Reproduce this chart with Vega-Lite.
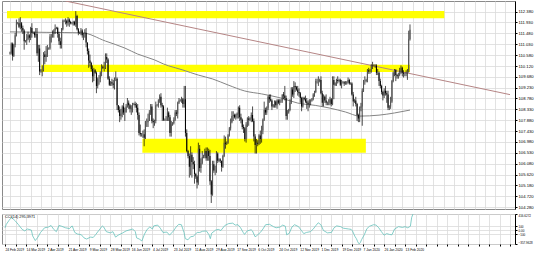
{
"$schema": "https://vega.github.io/schema/vega-lite/v6.json",
"background": "white",
"padding": {"left": 1, "top": 0, "right": 0, "bottom": 0},
"spacing": 1,
"config": {
  "view": {"stroke": "#8a8a8a", "strokeWidth": 1},
  "axis": {"labelFont": "Liberation Sans", "labelFontSize": 4.2, "labelColor": "#000000", "gridColor": "#dadada", "gridWidth": 0.8, "domainColor": "#000000", "tickColor": "#000000", "tickSize": 2, "labelPadding": 1}
},
"datasets": {
  "bands": [
    {"i": -2.3, "i2": 336.6, "p": 112.1, "p2": 112.41},
    {"i": 24.3, "i2": 310, "p": 109.88, "p2": 110.18},
    {"i": 102.6, "i2": 275.8, "p": 106.53, "p2": 107.11}
  ],
  "trend": [{"i": 43, "p": 112.82}, {"i": 387.5, "p": 108.94}],
  "ma": [
    {"i":0,"p":111.54},{"i":28,"p":111.52},{"i":56,"p":111.5},{"i":74,"p":111.16},{"i":89,"p":110.87},{"i":99,"p":110.62},{"i":112,"p":110.38},{"i":119,"p":110.21},{"i":134,"p":109.96},{"i":146,"p":109.75},{"i":157,"p":109.59},{"i":169,"p":109.34},{"i":182,"p":109.09},{"i":195,"p":108.97},{"i":210,"p":108.8},{"i":223,"p":108.59},{"i":237,"p":108.49},{"i":248,"p":108.38},{"i":260,"p":108.22},{"i":271,"p":108.05},{"i":286,"p":108.09},{"i":298,"p":108.18},{"i":310,"p":108.3}
  ],
  "ohlc": [
{"i":0,"o":110.65,"h":110.72,"l":110.6,"c":110.68},
{"i":1,"o":110.68,"h":111.1,"l":110.6,"c":111.05},
{"i":2,"o":111.05,"h":111.1,"l":110.35,"c":110.55},
{"i":3,"o":110.55,"h":111.05,"l":110.5,"c":111.0},
{"i":4,"o":111.0,"h":111.5,"l":110.9,"c":111.4},
{"i":5,"o":111.4,"h":112.05,"l":111.35,"c":111.9},
{"i":6,"o":111.9,"h":111.95,"l":111.85,"c":111.9},
{"i":7,"o":111.9,"h":112.1,"l":111.7,"c":111.75},
{"i":8,"o":111.75,"h":112.15,"l":111.65,"c":111.9},
{"i":9,"o":111.9,"h":111.95,"l":111.55,"c":111.7},
{"i":10,"o":111.7,"h":111.8,"l":111.45,"c":111.6},
{"i":11,"o":111.6,"h":111.65,"l":110.8,"c":111.15},
{"i":12,"o":111.15,"h":111.2,"l":111.1,"c":111.15},
{"i":13,"o":111.15,"h":111.45,"l":111.0,"c":111.25},
{"i":14,"o":111.25,"h":111.55,"l":111.2,"c":111.4},
{"i":15,"o":111.4,"h":111.45,"l":111.1,"c":111.3},
{"i":16,"o":111.3,"h":111.75,"l":111.2,"c":111.7},
{"i":17,"o":111.7,"h":111.9,"l":111.3,"c":111.5},
{"i":18,"o":111.5,"h":111.55,"l":111.45,"c":111.5},
{"i":19,"o":111.5,"h":111.55,"l":111.3,"c":111.4},
{"i":20,"o":111.4,"h":111.7,"l":111.3,"c":111.45},
{"i":21,"o":111.45,"h":111.7,"l":110.55,"c":110.65},
{"i":22,"o":110.65,"h":111.0,"l":110.3,"c":110.85},
{"i":23,"o":110.85,"h":111.0,"l":109.75,"c":109.9},
{"i":24,"o":109.9,"h":110.0,"l":109.85,"c":109.95},
{"i":25,"o":109.95,"h":110.15,"l":109.7,"c":109.95},
{"i":26,"o":109.95,"h":110.7,"l":109.9,"c":110.6},
{"i":27,"o":110.6,"h":110.75,"l":110.2,"c":110.5},
{"i":28,"o":110.5,"h":110.95,"l":110.3,"c":110.6},
{"i":29,"o":110.6,"h":111.0,"l":110.5,"c":110.85},
{"i":30,"o":110.85,"h":110.9,"l":110.8,"c":110.85},
{"i":31,"o":110.85,"h":111.45,"l":110.8,"c":111.35},
{"i":32,"o":111.35,"h":111.45,"l":111.1,"c":111.35},
{"i":33,"o":111.35,"h":111.6,"l":111.3,"c":111.45},
{"i":34,"o":111.45,"h":111.65,"l":111.3,"c":111.6},
{"i":35,"o":111.6,"h":111.85,"l":111.45,"c":111.7},
{"i":36,"o":111.7,"h":111.75,"l":111.65,"c":111.7},
{"i":37,"o":111.7,"h":111.75,"l":111.3,"c":111.45},
{"i":38,"o":111.45,"h":111.55,"l":111.0,"c":111.15},
{"i":39,"o":111.15,"h":111.3,"l":110.85,"c":111.0},
{"i":40,"o":111.0,"h":111.7,"l":110.85,"c":111.65},
{"i":41,"o":111.65,"h":112.05,"l":111.6,"c":112.0},
{"i":42,"o":112.0,"h":112.05,"l":111.95,"c":112.0},
{"i":43,"o":112.0,"h":112.1,"l":111.85,"c":112.0},
{"i":44,"o":112.0,"h":112.05,"l":111.75,"c":111.9},
{"i":45,"o":111.9,"h":112.15,"l":111.8,"c":112.05},
{"i":46,"o":112.05,"h":112.1,"l":111.75,"c":111.95},
{"i":47,"o":111.95,"h":112.0,"l":111.85,"c":111.9},
{"i":48,"o":111.9,"h":111.95,"l":111.85,"c":111.9},
{"i":49,"o":111.9,"h":112.0,"l":111.8,"c":111.95},
{"i":50,"o":111.95,"h":112.0,"l":111.8,"c":111.85},
{"i":51,"o":111.85,"h":112.4,"l":111.75,"c":112.2},
{"i":52,"o":112.2,"h":112.25,"l":111.6,"c":111.65},
{"i":53,"o":111.65,"h":111.7,"l":111.4,"c":111.5},
{"i":54,"o":111.5,"h":111.55,"l":111.45,"c":111.55},
{"i":55,"o":111.55,"h":111.7,"l":111.4,"c":111.6},
{"i":56,"o":111.6,"h":111.65,"l":111.3,"c":111.4},
{"i":57,"o":111.4,"h":111.5,"l":111.2,"c":111.45},
{"i":58,"o":111.45,"h":111.65,"l":111.3,"c":111.5},
{"i":59,"o":111.5,"h":111.7,"l":110.9,"c":111.1},
{"i":60,"o":111.1,"h":111.1,"l":110.6,"c":110.75},
{"i":61,"o":110.75,"h":110.85,"l":110.05,"c":110.35},
{"i":62,"o":110.35,"h":110.6,"l":110.1,"c":110.25},
{"i":63,"o":110.25,"h":110.3,"l":109.9,"c":110.0},
{"i":64,"o":110.0,"h":110.15,"l":109.45,"c":109.7},
{"i":65,"o":109.7,"h":110.05,"l":109.5,"c":109.95},
{"i":66,"o":109.95,"h":110.0,"l":109.8,"c":109.85},
{"i":67,"o":109.85,"h":109.9,"l":109.0,"c":109.3},
{"i":68,"o":109.3,"h":109.65,"l":109.2,"c":109.6},
{"i":69,"o":109.6,"h":109.75,"l":109.35,"c":109.6},
{"i":70,"o":109.6,"h":109.9,"l":109.45,"c":109.85},
{"i":71,"o":109.85,"h":110.2,"l":109.7,"c":110.1},
{"i":72,"o":110.1,"h":110.15,"l":110.0,"c":110.05},
{"i":73,"o":110.05,"h":110.3,"l":109.9,"c":110.05},
{"i":74,"o":110.05,"h":110.65,"l":110.0,"c":110.5},
{"i":75,"o":110.5,"h":110.65,"l":110.25,"c":110.4},
{"i":76,"o":110.4,"h":110.45,"l":109.55,"c":109.6},
{"i":77,"o":109.6,"h":109.7,"l":109.3,"c":109.35},
{"i":78,"o":109.35,"h":109.5,"l":109.3,"c":109.45},
{"i":79,"o":109.45,"h":109.6,"l":109.3,"c":109.4},
{"i":80,"o":109.4,"h":109.55,"l":109.2,"c":109.35},
{"i":81,"o":109.35,"h":109.65,"l":109.15,"c":109.6},
{"i":82,"o":109.6,"h":109.9,"l":109.5,"c":109.6},
{"i":83,"o":109.6,"h":109.65,"l":108.3,"c":108.5},
{"i":84,"o":108.5,"h":108.5,"l":108.2,"c":108.3},
{"i":85,"o":108.3,"h":108.45,"l":107.8,"c":108.05},
{"i":86,"o":108.05,"h":108.35,"l":107.9,"c":108.15},
{"i":87,"o":108.15,"h":108.5,"l":108.0,"c":108.45},
{"i":88,"o":108.45,"h":108.6,"l":108.1,"c":108.2},
{"i":89,"o":108.2,"h":108.4,"l":107.85,"c":108.2},
{"i":90,"o":108.2,"h":108.55,"l":108.2,"c":108.45},
{"i":91,"o":108.45,"h":108.8,"l":108.4,"c":108.6},
{"i":92,"o":108.6,"h":108.7,"l":108.35,"c":108.5},
{"i":93,"o":108.5,"h":108.55,"l":108.2,"c":108.35},
{"i":94,"o":108.35,"h":108.5,"l":108.1,"c":108.4},
{"i":95,"o":108.4,"h":108.6,"l":108.2,"c":108.55},
{"i":96,"o":108.55,"h":108.6,"l":108.5,"c":108.55},
{"i":97,"o":108.55,"h":108.65,"l":108.4,"c":108.5},
{"i":98,"o":108.5,"h":108.6,"l":108.2,"c":108.4},
{"i":99,"o":108.4,"h":108.55,"l":107.9,"c":108.1},
{"i":100,"o":108.1,"h":108.2,"l":107.25,"c":107.35},
{"i":101,"o":107.35,"h":107.7,"l":107.2,"c":107.3},
{"i":102,"o":107.3,"h":107.35,"l":107.2,"c":107.3},
{"i":103,"o":107.3,"h":107.45,"l":107.15,"c":107.3},
{"i":104,"o":107.3,"h":107.5,"l":106.8,"c":107.15},
{"i":105,"o":107.15,"h":107.85,"l":107.1,"c":107.8},
{"i":106,"o":107.8,"h":107.95,"l":107.6,"c":107.8},
{"i":107,"o":107.8,"h":108.15,"l":107.6,"c":107.85},
{"i":108,"o":107.85,"h":108.3,"l":107.85,"c":108.2},
{"i":109,"o":108.2,"h":108.55,"l":108.1,"c":108.45},
{"i":110,"o":108.45,"h":108.55,"l":107.75,"c":107.85},
{"i":111,"o":107.85,"h":107.95,"l":107.55,"c":107.8},
{"i":112,"o":107.8,"h":107.9,"l":107.65,"c":107.85},
{"i":113,"o":107.85,"h":108.65,"l":107.75,"c":108.5},
{"i":114,"o":108.5,"h":108.55,"l":108.45,"c":108.5},
{"i":115,"o":108.5,"h":108.75,"l":108.4,"c":108.7},
{"i":116,"o":108.7,"h":108.95,"l":108.6,"c":108.85},
{"i":117,"o":108.85,"h":109.0,"l":108.4,"c":108.5},
{"i":118,"o":108.5,"h":108.6,"l":107.85,"c":108.45},
{"i":119,"o":108.45,"h":108.5,"l":107.85,"c":107.9},
{"i":120,"o":107.9,"h":107.95,"l":107.85,"c":107.9},
{"i":121,"o":107.9,"h":108.05,"l":107.85,"c":107.9},
{"i":122,"o":107.9,"h":108.4,"l":107.85,"c":108.2},
{"i":123,"o":108.2,"h":108.25,"l":107.85,"c":108.0},
{"i":124,"o":108.0,"h":108.1,"l":107.2,"c":107.35},
{"i":125,"o":107.35,"h":107.85,"l":107.2,"c":107.7},
{"i":126,"o":107.7,"h":107.8,"l":107.65,"c":107.75},
{"i":127,"o":107.75,"h":108.0,"l":107.7,"c":107.9},
{"i":128,"o":107.9,"h":108.3,"l":107.85,"c":108.2},
{"i":129,"o":108.2,"h":108.3,"l":108.05,"c":108.15},
{"i":130,"o":108.15,"h":108.65,"l":107.95,"c":108.6},
{"i":131,"o":108.6,"h":108.8,"l":108.55,"c":108.7},
{"i":132,"o":108.7,"h":108.75,"l":108.65,"c":108.7},
{"i":133,"o":108.7,"h":108.85,"l":108.6,"c":108.75},
{"i":134,"o":108.75,"h":108.8,"l":108.4,"c":108.55},
{"i":135,"o":108.55,"h":109.3,"l":108.4,"c":108.75},
{"i":136,"o":108.75,"h":109.3,"l":107.2,"c":107.35},
{"i":137,"o":107.35,"h":107.5,"l":106.55,"c":106.6},
{"i":138,"o":106.6,"h":106.65,"l":106.3,"c":106.4},
{"i":139,"o":106.4,"h":106.5,"l":105.5,"c":105.95},
{"i":140,"o":105.95,"h":106.8,"l":105.6,"c":106.45},
{"i":141,"o":106.45,"h":106.55,"l":105.5,"c":106.15},
{"i":142,"o":106.15,"h":106.35,"l":105.85,"c":106.05},
{"i":143,"o":106.05,"h":106.2,"l":105.25,"c":105.65},
{"i":144,"o":105.65,"h":105.7,"l":105.45,"c":105.55},
{"i":145,"o":105.55,"h":105.6,"l":105.05,"c":105.3},
{"i":146,"o":105.3,"h":106.95,"l":105.2,"c":106.7},
{"i":147,"o":106.7,"h":106.85,"l":105.75,"c":105.9},
{"i":148,"o":105.9,"h":106.3,"l":105.7,"c":106.1},
{"i":149,"o":106.1,"h":106.6,"l":106.05,"c":106.35},
{"i":150,"o":106.35,"h":106.45,"l":106.3,"c":106.4},
{"i":151,"o":106.4,"h":106.7,"l":106.3,"c":106.6},
{"i":152,"o":106.6,"h":106.75,"l":106.2,"c":106.3},
{"i":153,"o":106.3,"h":106.75,"l":106.2,"c":106.6},
{"i":154,"o":106.6,"h":106.7,"l":106.2,"c":106.4},
{"i":155,"o":106.4,"h":106.65,"l":105.2,"c":105.35},
{"i":156,"o":105.35,"h":105.4,"l":104.45,"c":104.8},
{"i":157,"o":104.8,"h":106.2,"l":104.75,"c":106.05},
{"i":158,"o":106.05,"h":106.2,"l":105.7,"c":105.8},
{"i":159,"o":105.8,"h":106.0,"l":105.6,"c":105.8},
{"i":160,"o":105.8,"h":106.6,"l":105.7,"c":106.5},
{"i":161,"o":106.5,"h":106.55,"l":106.1,"c":106.2},
{"i":162,"o":106.2,"h":106.3,"l":106.15,"c":106.25},
{"i":163,"o":106.25,"h":106.3,"l":106.1,"c":106.2},
{"i":164,"o":106.2,"h":106.2,"l":105.75,"c":105.95},
{"i":165,"o":105.95,"h":106.45,"l":105.9,"c":106.4},
{"i":166,"o":106.4,"h":107.25,"l":106.35,"c":106.95},
{"i":167,"o":106.95,"h":107.2,"l":106.7,"c":106.9},
{"i":168,"o":106.9,"h":107.0,"l":106.85,"c":106.95},
{"i":169,"o":106.95,"h":107.3,"l":106.9,"c":107.25},
{"i":170,"o":107.25,"h":107.6,"l":107.2,"c":107.55},
{"i":171,"o":107.55,"h":107.95,"l":107.45,"c":107.8},
{"i":172,"o":107.8,"h":108.25,"l":107.75,"c":108.05},
{"i":173,"o":108.05,"h":108.25,"l":107.85,"c":108.1},
{"i":174,"o":108.1,"h":108.15,"l":107.95,"c":108.0},
{"i":175,"o":108.0,"h":108.15,"l":107.9,"c":108.1},
{"i":176,"o":108.1,"h":108.2,"l":107.95,"c":108.15},
{"i":177,"o":108.15,"h":108.45,"l":107.95,"c":108.4},
{"i":178,"o":108.4,"h":108.5,"l":107.85,"c":108.0},
{"i":179,"o":108.0,"h":108.15,"l":107.75,"c":107.9},
{"i":180,"o":107.9,"h":107.95,"l":107.5,"c":107.6},
{"i":181,"o":107.6,"h":107.7,"l":107.35,"c":107.55},
{"i":182,"o":107.55,"h":107.6,"l":107.0,"c":107.1},
{"i":183,"o":107.1,"h":107.8,"l":106.95,"c":107.7},
{"i":184,"o":107.7,"h":108.0,"l":107.6,"c":107.95},
{"i":185,"o":107.95,"h":108.05,"l":107.65,"c":107.9},
{"i":186,"o":107.9,"h":108.0,"l":107.85,"c":107.95},
{"i":187,"o":107.95,"h":108.2,"l":107.8,"c":108.1},
{"i":188,"o":108.1,"h":108.45,"l":107.8,"c":107.85},
{"i":189,"o":107.85,"h":107.95,"l":107.0,"c":107.2},
{"i":190,"o":107.2,"h":107.3,"l":106.5,"c":106.85},
{"i":191,"o":106.85,"h":107.1,"l":106.5,"c":106.95},
{"i":192,"o":106.95,"h":107.05,"l":106.8,"c":106.9},
{"i":193,"o":106.9,"h":107.3,"l":106.85,"c":107.25},
{"i":194,"o":107.25,"h":107.45,"l":106.9,"c":107.1},
{"i":195,"o":107.1,"h":107.65,"l":106.95,"c":107.45},
{"i":196,"o":107.45,"h":107.95,"l":107.3,"c":107.9},
{"i":197,"o":107.9,"h":108.65,"l":107.85,"c":108.3},
{"i":198,"o":108.3,"h":108.4,"l":108.1,"c":108.2},
{"i":199,"o":108.2,"h":108.45,"l":108.1,"c":108.4},
{"i":200,"o":108.4,"h":108.9,"l":108.3,"c":108.85},
{"i":201,"o":108.85,"h":108.95,"l":108.6,"c":108.75},
{"i":202,"o":108.75,"h":108.95,"l":108.65,"c":108.7},
{"i":203,"o":108.7,"h":108.75,"l":108.3,"c":108.45},
{"i":204,"o":108.45,"h":108.55,"l":108.4,"c":108.5},
{"i":205,"o":108.5,"h":108.7,"l":108.4,"c":108.65},
{"i":206,"o":108.65,"h":108.7,"l":108.4,"c":108.5},
{"i":207,"o":108.5,"h":108.75,"l":108.35,"c":108.7},
{"i":208,"o":108.7,"h":108.75,"l":108.55,"c":108.6},
{"i":209,"o":108.6,"h":108.75,"l":108.5,"c":108.7},
{"i":210,"o":108.7,"h":108.75,"l":108.6,"c":108.7},
{"i":211,"o":108.7,"h":108.95,"l":108.6,"c":108.95},
{"i":212,"o":108.95,"h":109.05,"l":108.75,"c":108.9},
{"i":213,"o":108.9,"h":109.3,"l":108.7,"c":108.8},
{"i":214,"o":108.8,"h":108.9,"l":107.9,"c":108.05},
{"i":215,"o":108.05,"h":108.3,"l":107.9,"c":108.2},
{"i":216,"o":108.2,"h":108.35,"l":108.15,"c":108.3},
{"i":217,"o":108.3,"h":108.75,"l":108.25,"c":108.6},
{"i":218,"o":108.6,"h":109.25,"l":108.55,"c":109.15},
{"i":219,"o":109.15,"h":109.25,"l":108.85,"c":108.95},
{"i":220,"o":108.95,"h":109.5,"l":108.8,"c":109.3},
{"i":221,"o":109.3,"h":109.45,"l":109.05,"c":109.25},
{"i":222,"o":109.25,"h":109.3,"l":109.1,"c":109.15},
{"i":223,"o":109.15,"h":109.3,"l":108.9,"c":109.05},
{"i":224,"o":109.05,"h":109.2,"l":108.85,"c":109.0},
{"i":225,"o":109.0,"h":109.05,"l":108.6,"c":108.8},
{"i":226,"o":108.8,"h":108.85,"l":108.25,"c":108.45},
{"i":227,"o":108.45,"h":108.85,"l":108.4,"c":108.8},
{"i":228,"o":108.8,"h":108.85,"l":108.7,"c":108.75},
{"i":229,"o":108.75,"h":108.9,"l":108.6,"c":108.65},
{"i":230,"o":108.65,"h":108.8,"l":108.35,"c":108.6},
{"i":231,"o":108.6,"h":108.7,"l":108.25,"c":108.55},
{"i":232,"o":108.55,"h":108.75,"l":108.4,"c":108.65},
{"i":233,"o":108.65,"h":108.75,"l":108.5,"c":108.7},
{"i":234,"o":108.7,"h":108.8,"l":108.65,"c":108.75},
{"i":235,"o":108.75,"h":109.0,"l":108.7,"c":108.95},
{"i":236,"o":108.95,"h":109.1,"l":108.85,"c":109.05},
{"i":237,"o":109.05,"h":109.6,"l":109.0,"c":109.5},
{"i":238,"o":109.5,"h":109.6,"l":109.4,"c":109.5},
{"i":239,"o":109.5,"h":109.7,"l":109.3,"c":109.5},
{"i":240,"o":109.5,"h":109.6,"l":109.45,"c":109.55},
{"i":241,"o":109.55,"h":109.7,"l":108.95,"c":109.0},
{"i":242,"o":109.0,"h":109.1,"l":108.45,"c":108.6},
{"i":243,"o":108.6,"h":108.95,"l":108.45,"c":108.85},
{"i":244,"o":108.85,"h":108.9,"l":108.6,"c":108.7},
{"i":245,"o":108.7,"h":108.95,"l":108.5,"c":108.6},
{"i":246,"o":108.6,"h":108.65,"l":108.5,"c":108.6},
{"i":247,"o":108.6,"h":108.75,"l":108.5,"c":108.6},
{"i":248,"o":108.6,"h":108.85,"l":108.5,"c":108.75},
{"i":249,"o":108.75,"h":108.8,"l":108.45,"c":108.55},
{"i":250,"o":108.55,"h":109.7,"l":108.5,"c":109.55},
{"i":251,"o":109.55,"h":109.7,"l":108.75,"c":109.35},
{"i":252,"o":109.35,"h":109.45,"l":109.3,"c":109.4},
{"i":253,"o":109.4,"h":109.6,"l":109.3,"c":109.55},
{"i":254,"o":109.55,"h":109.7,"l":109.4,"c":109.5},
{"i":255,"o":109.5,"h":109.6,"l":109.45,"c":109.55},
{"i":256,"o":109.55,"h":109.6,"l":109.3,"c":109.35},
{"i":257,"o":109.35,"h":109.55,"l":109.2,"c":109.45},
{"i":258,"o":109.45,"h":109.5,"l":109.4,"c":109.45},
{"i":259,"o":109.45,"h":109.5,"l":109.3,"c":109.4},
{"i":260,"o":109.4,"h":109.5,"l":109.35,"c":109.4},
{"i":261,"o":109.4,"h":109.5,"l":109.35,"c":109.45},
{"i":262,"o":109.45,"h":109.65,"l":109.4,"c":109.55},
{"i":263,"o":109.55,"h":109.6,"l":109.35,"c":109.4},
{"i":264,"o":109.4,"h":109.45,"l":109.35,"c":109.4},
{"i":265,"o":109.4,"h":109.45,"l":108.9,"c":108.95},
{"i":266,"o":108.95,"h":109.05,"l":108.45,"c":108.65},
{"i":267,"o":108.65,"h":108.75,"l":108.6,"c":108.7},
{"i":268,"o":108.7,"h":108.85,"l":108.45,"c":108.55},
{"i":269,"o":108.55,"h":108.6,"l":107.85,"c":108.1},
{"i":270,"o":108.1,"h":108.15,"l":107.8,"c":107.95},
{"i":271,"o":107.95,"h":108.45,"l":107.8,"c":108.4},
{"i":272,"o":108.4,"h":108.6,"l":108.25,"c":108.45},
{"i":273,"o":108.45,"h":109.2,"l":107.65,"c":109.1},
{"i":274,"o":109.1,"h":109.55,"l":109.05,"c":109.5},
{"i":275,"o":109.5,"h":109.7,"l":109.35,"c":109.5},
{"i":276,"o":109.5,"h":109.6,"l":109.45,"c":109.55},
{"i":277,"o":109.55,"h":110.0,"l":109.45,"c":109.95},
{"i":278,"o":109.95,"h":110.05,"l":109.8,"c":109.9},
{"i":279,"o":109.9,"h":110.0,"l":109.8,"c":109.9},
{"i":280,"o":109.9,"h":110.2,"l":109.85,"c":110.15},
{"i":281,"o":110.15,"h":110.3,"l":110.0,"c":110.15},
{"i":282,"o":110.15,"h":110.2,"l":110.1,"c":110.15},
{"i":283,"o":110.15,"h":110.2,"l":110.05,"c":110.15},
{"i":284,"o":110.15,"h":110.2,"l":109.75,"c":109.85},
{"i":285,"o":109.85,"h":110.0,"l":109.75,"c":109.85},
{"i":286,"o":109.85,"h":109.9,"l":109.3,"c":109.5},
{"i":287,"o":109.5,"h":109.6,"l":109.2,"c":109.3},
{"i":288,"o":109.3,"h":109.35,"l":108.95,"c":109.05},
{"i":289,"o":109.05,"h":109.1,"l":108.7,"c":108.9},
{"i":290,"o":108.9,"h":109.2,"l":108.8,"c":109.1},
{"i":291,"o":109.1,"h":109.3,"l":108.9,"c":109.0},
{"i":292,"o":109.0,"h":109.1,"l":108.6,"c":108.95},
{"i":293,"o":108.95,"h":109.1,"l":108.3,"c":108.4},
{"i":294,"o":108.4,"h":108.5,"l":108.3,"c":108.45},
{"i":295,"o":108.45,"h":108.85,"l":108.35,"c":108.65},
{"i":296,"o":108.65,"h":109.55,"l":108.6,"c":109.5},
{"i":297,"o":109.5,"h":109.9,"l":109.45,"c":109.85},
{"i":298,"o":109.85,"h":110.0,"l":109.7,"c":109.95},
{"i":299,"o":109.95,"h":110.0,"l":109.5,"c":109.75},
{"i":300,"o":109.75,"h":109.8,"l":109.6,"c":109.7},
{"i":301,"o":109.7,"h":109.85,"l":109.6,"c":109.75},
{"i":302,"o":109.75,"h":110.05,"l":109.7,"c":109.85},
{"i":303,"o":109.85,"h":110.15,"l":109.8,"c":110.05},
{"i":304,"o":110.05,"h":110.1,"l":109.7,"c":109.85},
{"i":305,"o":109.85,"h":109.95,"l":109.65,"c":109.8},
{"i":306,"o":109.8,"h":109.85,"l":109.7,"c":109.8},
{"i":307,"o":109.8,"h":109.95,"l":109.7,"c":109.85},
{"i":308,"o":109.85,"h":110.0,"l":109.55,"c":109.9},
{"i":309,"o":109.9,"h":111.59,"l":109.85,"c":111.24},
{"i":310,"o":111.24,"h":111.85,"l":111.18,"c":111.63}
  ],
  "cci": [
{"i":0,"v":60},{"i":1,"v":150},{"i":3,"v":250},{"i":5,"v":330},{"i":8,"v":230},{"i":10,"v":150},{"i":13,"v":20},{"i":15,"v":-20},{"i":17,"v":30},{"i":20,"v":0},{"i":21,"v":-150},{"i":23,"v":-270},{"i":25,"v":-180},{"i":27,"v":-60},{"i":30,"v":60},{"i":33,"v":80},{"i":35,"v":120},{"i":37,"v":20},{"i":39,"v":-40},{"i":41,"v":120},{"i":43,"v":100},{"i":46,"v":60},{"i":49,"v":40},{"i":51,"v":110},{"i":53,"v":-60},{"i":55,"v":-100},{"i":58,"v":-120},{"i":60,"v":-200},{"i":62,"v":-230},{"i":65,"v":-180},{"i":67,"v":-190},{"i":69,"v":-110},{"i":71,"v":-20},{"i":74,"v":110},{"i":75,"v":80},{"i":77,"v":-40},{"i":80,"v":-70},{"i":82,"v":-40},{"i":84,"v":-180},{"i":86,"v":-130},{"i":89,"v":-80},{"i":92,"v":-20},{"i":95,"v":10},{"i":97,"v":30},{"i":99,"v":-40},{"i":100,"v":-200},{"i":102,"v":-230},{"i":104,"v":-280},{"i":106,"v":-100},{"i":108,"v":20},{"i":110,"v":80},{"i":112,"v":30},{"i":113,"v":110},{"i":116,"v":130},{"i":118,"v":50},{"i":120,"v":-60},{"i":123,"v":-50},{"i":125,"v":-130},{"i":128,"v":-20},{"i":130,"v":80},{"i":132,"v":150},{"i":134,"v":140},{"i":136,"v":-60},{"i":137,"v":-220},{"i":139,"v":-250},{"i":141,"v":-170},{"i":143,"v":-160},{"i":146,"v":-60},{"i":148,"v":-60},{"i":150,"v":-30},{"i":153,"v":-20},{"i":155,"v":-120},{"i":156,"v":-220},{"i":157,"v":-80},{"i":160,"v":0},{"i":162,"v":20},{"i":164,"v":-10},{"i":167,"v":120},{"i":170,"v":170},{"i":173,"v":180},{"i":175,"v":130},{"i":177,"v":140},{"i":179,"v":60},{"i":181,"v":-60},{"i":182,"v":-110},{"i":184,"v":-20},{"i":187,"v":10},{"i":188,"v":-20},{"i":190,"v":-170},{"i":191,"v":-150},{"i":194,"v":-60},{"i":196,"v":30},{"i":198,"v":140},{"i":201,"v":150},{"i":204,"v":90},{"i":206,"v":60},{"i":209,"v":80},{"i":211,"v":130},{"i":213,"v":100},{"i":214,"v":-120},{"i":216,"v":-80},{"i":218,"v":80},{"i":220,"v":140},{"i":223,"v":90},{"i":225,"v":0},{"i":227,"v":-90},{"i":229,"v":-60},{"i":232,"v":-40},{"i":234,"v":20},{"i":236,"v":110},{"i":238,"v":190},{"i":240,"v":140},{"i":242,"v":-10},{"i":245,"v":-70},{"i":248,"v":-60},{"i":250,"v":60},{"i":252,"v":110},{"i":255,"v":90},{"i":257,"v":50},{"i":259,"v":40},{"i":261,"v":30},{"i":263,"v":20},{"i":264,"v":-20},{"i":266,"v":-170},{"i":267,"v":-220},{"i":268,"v":-300},{"i":269,"v":-355},{"i":270,"v":-320},{"i":271,"v":-240},{"i":273,"v":-120},{"i":275,"v":40},{"i":277,"v":100},{"i":280,"v":140},{"i":282,"v":130},{"i":284,"v":60},{"i":286,"v":-40},{"i":288,"v":-130},{"i":290,"v":-90},{"i":292,"v":-110},{"i":294,"v":-120},{"i":296,"v":30},{"i":299,"v":90},{"i":302,"v":70},{"i":304,"v":90},{"i":306,"v":60},{"i":308,"v":100},{"i":309,"v":330},{"i":310,"v":416}
  ]
},
"vconcat": [
  {
    "width": 513,
    "height": 208,
    "encoding": {
      "x": {"field": "i", "type": "quantitative", "scale": {"domain": [-2.3, 387.5], "nice": false, "zero": false},
            "axis": {"values": [0,8,16,24,32,40,48,56,64,72,80,88,96,104,112,120,128,136,144,152,160,168,176,184,192,200,208,216,224,232,240,248,256,264,272,280,288,296,304,312,320,328,336,344,352,360,368,376,384], "labels": false, "ticks": false, "domain": false, "grid": true, "title": null}}
    },
    "layer": [
      {
        "data": {"name": "bands"},
        "mark": {"type": "rect", "color": "#FFFF00"},
        "encoding": {
          "x2": {"field": "i2"},
          "y": {"field": "p", "type": "quantitative", "scale": {"domain": [104.2, 112.82], "nice": false, "zero": false},
                "axis": {"orient": "right", "values": [112.38,111.93,111.48,111.03,110.58,110.12,109.68,109.23,108.78,108.33,107.88,107.43,106.98,106.53,106.08,105.62,105.18,104.72,104.28], "format": ".3f", "grid": true, "labelOverlap": false, "labelFlush": false, "title": null}},
          "y2": {"field": "p2"}
        }
      },
      {
        "data": {"name": "trend"},
        "mark": {"type": "line", "color": "#b58585", "strokeWidth": 1, "clip": true},
        "encoding": {
          "y": {"field": "p", "type": "quantitative", "scale": {"domain": [104.2, 112.82], "nice": false, "zero": false},
                "axis": {"orient": "right", "values": [112.38,111.93,111.48,111.03,110.58,110.12,109.68,109.23,108.78,108.33,107.88,107.43,106.98,106.53,106.08,105.62,105.18,104.72,104.28], "format": ".3f", "grid": true, "labelOverlap": false, "labelFlush": false, "title": null}}
        }
      },
      {
        "data": {"name": "ma"},
        "mark": {"type": "line", "color": "#858585", "strokeWidth": 1, "interpolate": "monotone"},
        "encoding": {
          "y": {"field": "p", "type": "quantitative", "scale": {"domain": [104.2, 112.82], "nice": false, "zero": false},
                "axis": {"orient": "right", "values": [112.38,111.93,111.48,111.03,110.58,110.12,109.68,109.23,108.78,108.33,107.88,107.43,106.98,106.53,106.08,105.62,105.18,104.72,104.28], "format": ".3f", "grid": true, "labelOverlap": false, "labelFlush": false, "title": null}}
        }
      },
      {
        "data": {"name": "ohlc"},
        "mark": {"type": "rule", "color": "#000000", "strokeWidth": 0.7},
        "encoding": {
          "y": {"field": "l", "type": "quantitative", "scale": {"domain": [104.2, 112.82], "nice": false, "zero": false},
                "axis": {"orient": "right", "values": [112.38,111.93,111.48,111.03,110.58,110.12,109.68,109.23,108.78,108.33,107.88,107.43,106.98,106.53,106.08,105.62,105.18,104.72,104.28], "format": ".3f", "grid": true, "labelOverlap": false, "labelFlush": false, "title": null}},
          "y2": {"field": "h"}
        }
      },
      {
        "data": {"name": "ohlc"},
        "mark": {"type": "bar", "size": 1.0},
        "encoding": {
          "y": {"field": "o", "type": "quantitative", "scale": {"domain": [104.2, 112.82], "nice": false, "zero": false},
                "axis": {"orient": "right", "values": [112.38,111.93,111.48,111.03,110.58,110.12,109.68,109.23,108.78,108.33,107.88,107.43,106.98,106.53,106.08,105.62,105.18,104.72,104.28], "format": ".3f", "grid": true, "labelOverlap": false, "labelFlush": false, "title": null}},
          "y2": {"field": "c"},
          "color": {"condition": {"test": "datum.c < datum.o", "value": "#000000"}, "value": "#555555"}
        }
      },
      {
        "data": {"values": [{}]},
        "mark": {"type": "text", "align": "left", "baseline": "middle", "fontSize": 4.3, "font": "Liberation Sans", "color": "#000000"},
        "encoding": {
          "x": {"datum": 1.5, "type": "quantitative", "scale": {"domain": [-2.3, 387.5], "nice": false, "zero": false},
                "axis": {"values": [0,8,16,24,32,40,48,56,64,72,80,88,96,104,112,120,128,136,144,152,160,168,176,184,192,200,208,216,224,232,240,248,256,264,272,280,288,296,304,312,320,328,336,344,352,360,368,376,384], "labels": false, "ticks": false, "domain": false, "grid": true, "title": null}},
          "y": {"datum": 112.68, "type": "quantitative", "scale": {"domain": [104.2, 112.82], "nice": false, "zero": false},
                "axis": {"orient": "right", "values": [112.38,111.93,111.48,111.03,110.58,110.12,109.68,109.23,108.78,108.33,107.88,107.43,106.98,106.53,106.08,105.62,105.18,104.72,104.28], "format": ".3f", "grid": true, "labelOverlap": false, "labelFlush": false, "title": null}},
          "text": {"value": "USDJPY,Daily  111.236 111.846 111.178 111.628"}
        }
      },
      {
        "data": {"values": [{}]},
        "mark": {"type": "text", "align": "right", "baseline": "middle", "fontSize": 4, "font": "Liberation Sans", "color": "#000000"},
        "encoding": {
          "x": {"datum": 384, "type": "quantitative", "scale": {"domain": [-2.3, 387.5], "nice": false, "zero": false},
                "axis": {"values": [0,8,16,24,32,40,48,56,64,72,80,88,96,104,112,120,128,136,144,152,160,168,176,184,192,200,208,216,224,232,240,248,256,264,272,280,288,296,304,312,320,328,336,344,352,360,368,376,384], "labels": false, "ticks": false, "domain": false, "grid": true, "title": null}},
          "y": {"datum": 112.68, "type": "quantitative", "scale": {"domain": [104.2, 112.82], "nice": false, "zero": false},
                "axis": {"orient": "right", "values": [112.38,111.93,111.48,111.03,110.58,110.12,109.68,109.23,108.78,108.33,107.88,107.43,106.98,106.53,106.08,105.62,105.18,104.72,104.28], "format": ".3f", "grid": true, "labelOverlap": false, "labelFlush": false, "title": null}},
          "text": {"value": "Smart Orders"}
        }
      },
      {
        "data": {"values": [{}]},
        "mark": {"type": "rect", "color": "#000000", "clip": false},
        "encoding": {
          "x": {"datum": 389.3, "type": "quantitative", "scale": {"domain": [-2.3, 387.5], "nice": false, "zero": false},
                "axis": {"values": [0,8,16,24,32,40,48,56,64,72,80,88,96,104,112,120,128,136,144,152,160,168,176,184,192,200,208,216,224,232,240,248,256,264,272,280,288,296,304,312,320,328,336,344,352,360,368,376,384], "labels": false, "ticks": false, "domain": false, "grid": true, "title": null}},
          "x2": {"datum": 403},
          "y": {"datum": 111.68, "type": "quantitative", "scale": {"domain": [104.2, 112.82], "nice": false, "zero": false},
                "axis": {"orient": "right", "values": [112.38,111.93,111.48,111.03,110.58,110.12,109.68,109.23,108.78,108.33,107.88,107.43,106.98,106.53,106.08,105.62,105.18,104.72,104.28], "format": ".3f", "grid": true, "labelOverlap": false, "labelFlush": false, "title": null}},
          "y2": {"datum": 111.5}
        }
      },
      {
        "data": {"values": [{}]},
        "mark": {"type": "text", "align": "center", "baseline": "middle", "fontSize": 4.1, "font": "Liberation Sans", "color": "#ffffff", "clip": false},
        "encoding": {
          "x": {"datum": 396.1, "type": "quantitative", "scale": {"domain": [-2.3, 387.5], "nice": false, "zero": false},
                "axis": {"values": [0,8,16,24,32,40,48,56,64,72,80,88,96,104,112,120,128,136,144,152,160,168,176,184,192,200,208,216,224,232,240,248,256,264,272,280,288,296,304,312,320,328,336,344,352,360,368,376,384], "labels": false, "ticks": false, "domain": false, "grid": true, "title": null}},
          "y": {"datum": 111.59, "type": "quantitative", "scale": {"domain": [104.2, 112.82], "nice": false, "zero": false},
                "axis": {"orient": "right", "values": [112.38,111.93,111.48,111.03,110.58,110.12,109.68,109.23,108.78,108.33,107.88,107.43,106.98,106.53,106.08,105.62,105.18,104.72,104.28], "format": ".3f", "grid": true, "labelOverlap": false, "labelFlush": false, "title": null}},
          "text": {"value": "111.628"}
        }
      }
    ]
  },
  {
    "width": 513,
    "height": 30,
    "layer": [
      {
        "data": {"name": "cci"},
        "mark": {"type": "line", "color": "#66c2bb", "strokeWidth": 0.8},
        "encoding": {
          "x": {"field": "i", "type": "quantitative", "scale": {"domain": [-2.3, 387.5], "nice": false, "zero": false},
                "axis": {"values": [0,8,16,24,32,40,48,56,64,72,80,88,96,104,112,120,128,136,144,152,160,168,176,184,192,200,208,216,224,232,240,248,256,264,272,280,288,296,304,312,320,328,336,344,352,360,368,376,384], "grid": true, "domain": false, "ticks": true, "tickSize": 2, "labelAlign": "left", "labelBaseline": "top", "labelPadding": 1, "labelFontSize": 3.3, "labelOverlap": false, "labelFlush": false, "title": null,
                         "labelExpr": "(datum.value % 16 == 0 && datum.value <= 304) ? ['24 Feb 2019','14 Mar 2019','2 Apr 2019','21 Apr 2019','9 May 2019','28 May 2019','16 Jun 2019','4 Jul 2019','23 Jul 2019','11 Aug 2019','29 Aug 2019','17 Sep 2019','6 Oct 2019','24 Oct 2019','12 Nov 2019','1 Dec 2019','19 Dec 2019','7 Jan 2020','26 Jan 2020','13 Feb 2020'][datum.value / 16] : ''"}},
          "y": {"field": "v", "type": "quantitative", "scale": {"domain": [-357.9628, 416.6272], "nice": false, "zero": false},
                "axis": {"orient": "right", "values": [416.6272, 100, 0, -100, -357.9628], "grid": true, "labelOverlap": false, "labelFlush": true, "labelFontSize": 3, "title": null,
                         "labelExpr": "datum.value == 0 ? '0.00' : (abs(datum.value) == 100 ? format(datum.value, 'd') : format(datum.value, '.4f'))"}}
        }
      },
      {
        "data": {"values": [{}]},
        "mark": {"type": "text", "align": "left", "baseline": "middle", "fontSize": 3.8, "font": "Liberation Sans", "color": "#000000"},
        "encoding": {
          "x": {"datum": 0, "type": "quantitative", "scale": {"domain": [-2.3, 387.5], "nice": false, "zero": false},
                "axis": {"values": [0,8,16,24,32,40,48,56,64,72,80,88,96,104,112,120,128,136,144,152,160,168,176,184,192,200,208,216,224,232,240,248,256,264,272,280,288,296,304,312,320,328,336,344,352,360,368,376,384], "grid": true, "domain": false, "ticks": true, "tickSize": 2, "labelAlign": "left", "labelBaseline": "top", "labelPadding": 1, "labelFontSize": 3.3, "labelOverlap": false, "labelFlush": false, "title": null,
                         "labelExpr": "(datum.value % 16 == 0 && datum.value <= 304) ? ['24 Feb 2019','14 Mar 2019','2 Apr 2019','21 Apr 2019','9 May 2019','28 May 2019','16 Jun 2019','4 Jul 2019','23 Jul 2019','11 Aug 2019','29 Aug 2019','17 Sep 2019','6 Oct 2019','24 Oct 2019','12 Nov 2019','1 Dec 2019','19 Dec 2019','7 Jan 2020','26 Jan 2020','13 Feb 2020'][datum.value / 16] : ''"}},
          "y": {"datum": 345, "type": "quantitative", "scale": {"domain": [-357.9628, 416.6272], "nice": false, "zero": false},
                "axis": {"orient": "right", "values": [416.6272, 100, 0, -100, -357.9628], "grid": true, "labelOverlap": false, "labelFlush": true, "labelFontSize": 3, "title": null,
                         "labelExpr": "datum.value == 0 ? '0.00' : (abs(datum.value) == 100 ? format(datum.value, 'd') : format(datum.value, '.4f'))"}},
          "text": {"value": "CCI(14) 295.3971"}
        }
      }
    ]
  }
]
}
